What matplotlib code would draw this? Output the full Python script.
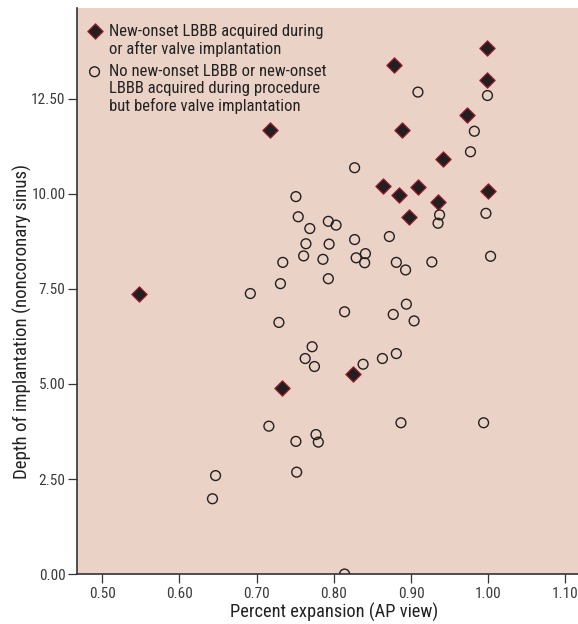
import numpy as np
import matplotlib
matplotlib.use("Agg")
import matplotlib.pyplot as plt
from matplotlib import font_manager

# pick a condensed sans for the gothic-condensed look of the original
names = {f.name for f in font_manager.fontManager.ttflist}
cond = [n for n in ['Roboto Condensed', 'Fira Sans Condensed', 'PT Sans Narrow',
                    'Archivo Narrow', 'Sofia Sans Condensed', 'Barlow Condensed']
        if n in names]
plt.rcParams['font.family'] = cond[:1] + ['DejaVu Sans']

# new-onset LBBB during / after valve implantation
lbbb_x = [0.548, 0.717, 0.733, 0.825, 0.864, 0.878, 0.888, 0.885, 0.897, 0.909,
          0.935, 0.942, 0.973, 0.999, 0.999, 1.000]
lbbb_y = [7.38, 11.68, 4.89, 5.27, 10.21, 13.40, 11.69, 9.96, 9.39, 10.18,
          9.79, 10.92, 12.09, 13.83, 12.99, 10.08]

# no new-onset LBBB / LBBB before valve implantation
other_x = [0.643, 0.647, 0.692, 0.716, 0.729, 0.731, 0.734, 0.751, 0.752, 0.751,
           0.754, 0.761, 0.764, 0.769, 0.763, 0.772, 0.775, 0.777, 0.780, 0.786,
           0.793, 0.794, 0.793, 0.803, 0.814, 0.814, 0.827, 0.827, 0.829, 0.840,
           0.841, 0.838, 0.863, 0.872, 0.877, 0.881, 0.881, 0.893, 0.894, 0.887,
           0.904, 0.909, 0.927, 0.935, 0.937, 0.977, 0.982, 0.997, 0.999, 0.994,
           1.003]
other_y = [1.98, 2.59, 7.38, 3.89, 6.62, 7.64, 8.20, 3.49, 2.68, 9.93,
           9.40, 8.37, 8.69, 9.09, 5.67, 5.98, 5.46, 3.67, 3.47, 8.28,
           9.28, 8.68, 7.77, 9.18, 6.90, 0.00, 10.69, 8.80, 8.32, 8.19,
           8.43, 5.52, 5.67, 8.88, 6.83, 5.80, 8.20, 8.00, 7.10, 3.98,
           6.66, 12.68, 8.21, 9.23, 9.45, 11.11, 11.65, 9.49, 12.59, 3.98,
           8.36]

xticks = [0.5, 0.6, 0.7, 0.8, 0.9, 1.0, 1.1]
yticks = [0, 2.5, 5, 7.5, 10, 12.5]

lbl_lbbb = "New-onset LBBB acquired during\nor after valve implantation"
lbl_other = ("No new-onset LBBB or new-onset\nLBBB acquired during procedure\n"
             "but before valve implantation")

fig = plt.figure(figsize=(5.78, 6.24), dpi=100)
ax = fig.add_axes([0.1324, 0.0801, 0.8676, 0.9063])
ax.set_facecolor('#EAD2C6')

ax.scatter(lbbb_x, lbbb_y, marker='D', s=62, facecolor='#231F20',
           edgecolor='#A8202E', linewidth=0.8, zorder=3, label=lbl_lbbb)
ax.scatter(other_x, other_y, marker='o', s=50, facecolor='none',
           edgecolor='#231F20', linewidth=1.0, zorder=3, label=lbl_other)

ax.set_xlim(0.467, 1.1162)
ax.set_ylim(0, 14.88)
ax.set_xticks(xticks)
ax.set_xticklabels(["%.2f" % v for v in xticks])
ax.set_yticks(yticks)
ax.set_yticklabels(["%.2f" % v for v in yticks])

for s in ['top', 'right']:
    ax.spines[s].set_visible(False)
for s in ['left', 'bottom']:
    ax.spines[s].set_color('#333333')
    ax.spines[s].set_linewidth(1.2)
ax.tick_params(axis='both', direction='out', length=6.5, width=0.9,
               color='#333333', labelcolor='#3a3a3a', labelsize=11)
ax.tick_params(axis='y', pad=1.5)
ax.tick_params(axis='x', pad=3)

ax.set_xlabel("Percent expansion (AP view)", fontsize=13.2, color='#222222')
ax.set_ylabel("Depth of implantation (noncoronary sinus)", fontsize=13.6,
              color='#222222')
ax.xaxis.set_label_coords(0.5135, -0.051)
ax.yaxis.set_label_coords(-0.0887, 0.4465)

leg = ax.legend(loc='upper left', bbox_to_anchor=(0.0, 0.990), frameon=False,
                fontsize=12, handletextpad=0.34, borderaxespad=0.2,
                labelspacing=0.46, handlelength=1.0, borderpad=0.38)
for col in leg._legend_handle_box.get_children():
    for row in col.get_children():
        row.align = 'top'
for t in leg.get_texts():
    t.set_color('#222222')
    t.set_linespacing(1.15)

fig.savefig("out.png", dpi=100)
